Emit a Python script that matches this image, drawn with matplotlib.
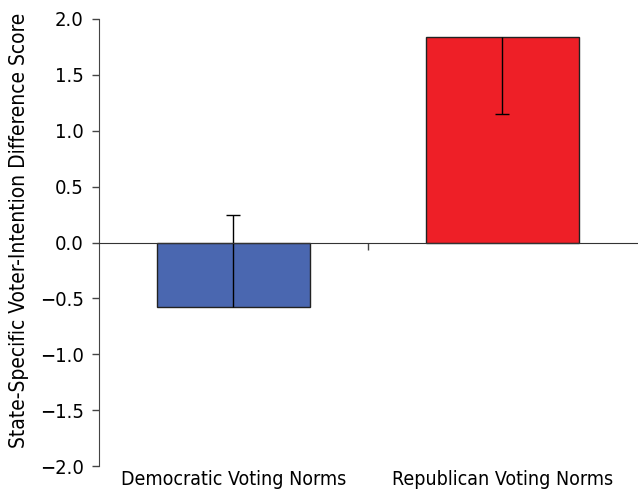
import numpy as np
import matplotlib.pyplot as plt

plt.rcParams['font.family'] = ['DejaVu Sans']
plt.rcParams['font.stretch'] = 'condensed'

categories = ["Democratic Voting Norms", "Republican Voting Norms"]
scores = [-0.58, 1.84]
err_lower = [0.0, 0.69]
err_upper = [0.83, 0.0]
bar_colors = ["#4a67b0", "#ee1f27"]


def main():
    fig = plt.figure(figsize=(6.38, 4.97), dpi=100)
    ax = fig.add_axes([0.155, 0.062, 0.843, 0.900])

    x = np.arange(len(categories))
    ax.bar(x, scores, width=0.57, color=bar_colors, edgecolor="#222222", linewidth=1.0, zorder=2)
    _, caps, _ = ax.errorbar(x, scores, yerr=[err_lower, err_upper], fmt="none", ecolor="black",
                             elinewidth=1.0, capsize=5, capthick=1.0, zorder=3)
    # only show caps on the side that actually has an error bar
    caps[0].set_markevery([i for i, e in enumerate(err_lower) if e > 0])
    caps[1].set_markevery([i for i, e in enumerate(err_upper) if e > 0])

    ax.set_xlim(-0.5, 1.5)
    ax.set_ylim(-2.0, 2.0)
    ticks = np.arange(-2.0, 2.01, 0.5)
    ax.set_yticks(ticks)
    ax.set_yticklabels([f"{v:.1f}".replace("-", "\u2212") for v in ticks])
    ax.set_xticks(x)
    ax.set_xticklabels(categories)
    ax.tick_params(axis="x", length=0, pad=3, labelsize=14)
    ax.tick_params(axis="y", length=5, width=1, color="#444444", labelsize=14.5, pad=6)
    ax.set_ylabel("State-Specific Voter-Intention Difference Score", fontsize=15)
    ax.yaxis.set_label_coords(-0.13, 0.528)

    for side in ("top", "right", "bottom"):
        ax.spines[side].set_visible(False)
    ax.spines["left"].set_color("#444444")

    # zero line with category divider tick
    zero_axis = ax.secondary_xaxis(0.5)
    zero_axis.set_xticks([0.5], labels=[""])
    zero_axis.tick_params(length=5, width=1, color="#444444", direction="in")
    for sp in zero_axis.spines.values():
        sp.set_color("#333333")
    zero_axis.set_zorder(4)

    fig.savefig("out.png", dpi=100)


if __name__ == "__main__":
    main()
